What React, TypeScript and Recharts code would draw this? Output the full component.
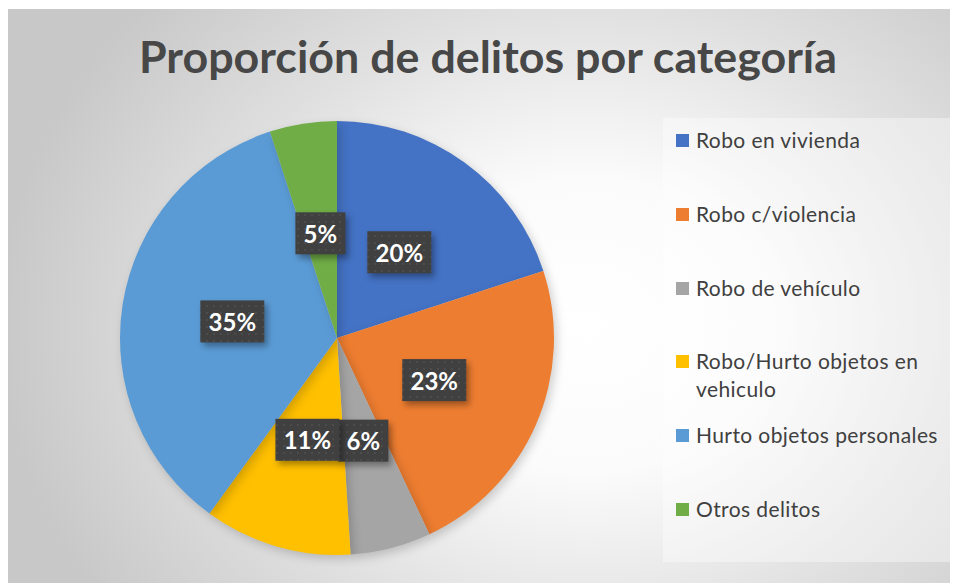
import React from "react";
import { PieChart, Pie, Cell, Legend } from "recharts";

const categories = [
  "Robo en vivienda",
  "Robo c/violencia",
  "Robo de vehículo",
  "Robo/Hurto objetos en vehiculo",
  "Hurto objetos personales",
  "Otros delitos",
];
const values = [20, 23, 6, 11, 35, 5];
const colors = ["#4472C4", "#ED7D31", "#A5A5A5", "#FFC000", "#5B9BD5", "#70AD47"];
const title = "Proporción de delitos por categoría";

const data = categories.map((name, i) => ({ name, value: values[i] }));

const W = 950;
const H = 575;
const RAD = Math.PI / 180;

const renderLabel = (props: any) => {
  const { cx, cy, midAngle, percent } = props;
  const r = 106;
  const x = cx + r * Math.cos(-midAngle * RAD);
  const y = cy + r * Math.sin(-midAngle * RAD);
  const text = `${Math.round(percent * 100)}%`;
  const bw = text.length >= 3 ? 64 : 50;
  const bh = 42;
  return (
    <g>
      <rect
        x={x - bw / 2}
        y={y - bh / 2}
        width={bw}
        height={bh}
        fill="url(#dotPattern)"
        style={{ filter: "drop-shadow(3px 4px 3px rgba(0,0,0,0.35))" }}
      />
      <text
        x={x}
        y={y}
        textAnchor="middle"
        dominantBaseline="central"
        fill="#ffffff"
        fontFamily="Lato, 'Open Sans', sans-serif"
        fontWeight={700}
        fontSize={24}
      >
        {text}
      </text>
    </g>
  );
};

const LegendContent = () => (
  <div
    style={{
      position: "relative",
      width: 290,
      height: 444,
      background: "rgba(255,255,255,0.38)",
      fontFamily: "Lato, 'Open Sans', sans-serif",
      fontSize: 21,
      letterSpacing: "0.4px",
      color: "#404040",
    }}
  >
    {categories.map((c, i) => (
      <div
        key={c}
        style={{
          position: "absolute",
          left: 0,
          top: 8 + i * 73.8,
          width: 290,
          lineHeight: "28px",
        }}
      >
        <span
          style={{
            position: "absolute",
            left: 13,
            top: 8,
            width: 13,
            height: 13,
            background: colors[i],
          }}
        />
        <div style={{ marginLeft: 33, width: 252 }}>{c}</div>
      </div>
    ))}
  </div>
);

export default function App() {
  return (
    <div
      style={{
        position: "relative",
        width: W,
        height: H,
        marginTop: 1,
        background:
          "radial-gradient(ellipse 62% 85% at 61% 55%, #ffffff 0%, #fbfbfb 30%, #e0e0e0 65%, #c8c8c8 100%)",
      }}
    >
      <style>{`.recharts-pie-sector { filter: drop-shadow(3px 4px 5px rgba(0,0,0,0.18)); }`}</style>
      <svg
        width={W}
        height={90}
        style={{ position: "absolute", left: 0, top: 0 }}
      >
        <text
          x={480}
          y={64}
          textAnchor="middle"
          fill="#474747"
          fontFamily="Lato, 'Open Sans', sans-serif"
          fontWeight={700}
          fontSize={44}
          textLength={698}
          lengthAdjust="spacingAndGlyphs"
        >
          {title}
        </text>
      </svg>
      <div style={{ position: "absolute", left: 0, top: 0 }}>
        <PieChart width={W} height={H} margin={{ top: 0, right: 0, bottom: 0, left: 0 }}>
          <defs>
            <pattern id="dotPattern" width="7" height="7" patternUnits="userSpaceOnUse">
              <rect width="7" height="7" fill="#404040" />
              <rect x="2" y="2" width="2" height="2" fill="#4c4c4c" />
            </pattern>
          </defs>
          <Pie
            data={data}
            dataKey="value"
            nameKey="name"
            cx={329}
            cy={329}
            outerRadius={217}
            startAngle={90}
            endAngle={-270}
            stroke="none"
            label={renderLabel}
            labelLine={false}
            isAnimationActive={false}
          >
            {data.map((d, i) => (
              <Cell key={d.name} fill={colors[i]} />
            ))}
          </Pie>
          <Legend
            content={<LegendContent />}
            wrapperStyle={{ position: "absolute", left: 655, top: 109, width: 290, height: 444 }}
          />
        </PieChart>
      </div>
    </div>
  );
}
